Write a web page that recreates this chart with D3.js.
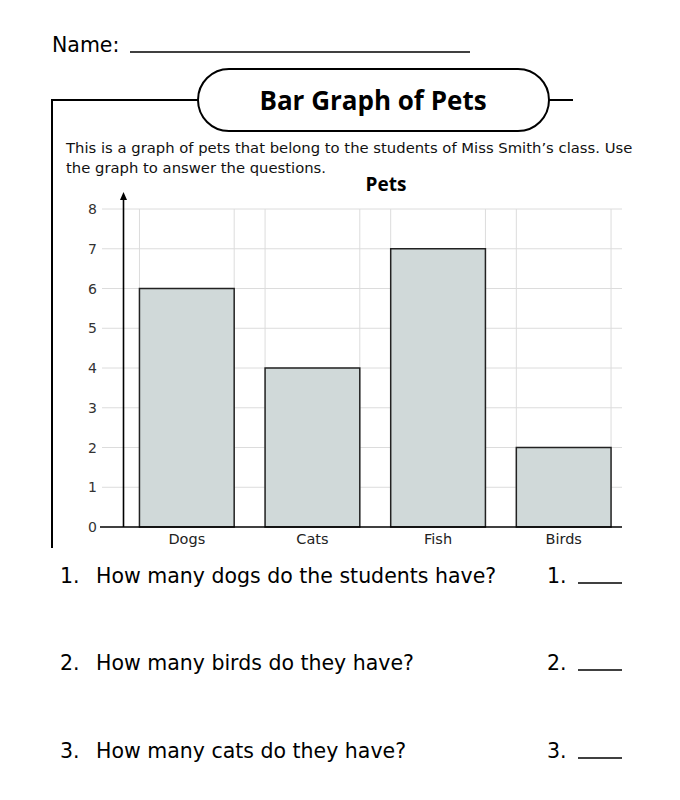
<!DOCTYPE html>
<html lang="en">
<head>
    <meta charset="UTF-8">
    <title>Bar Graph of Pets</title>
    <style>
        body, html {
            margin: 0;
            padding: 0;
            background: #fff;
        }
        svg text {
            font-family: "DejaVu Sans", "Noto Sans", sans-serif;
        }
        svg text.heavy {
            font-family: "Open Sans", "DejaVu Sans", sans-serif;
            font-weight: bold;
        }
    </style>
    <script src="https://d3js.org/d3.v7.min.js"></script>
</head>
<body>
    <div id="chart"></div>
    <script>
        // chart data
        const categories = ["Dogs", "Cats", "Fish", "Birds"];
        const petCounts = [6, 4, 7, 2];
        const yTicks = [0, 1, 2, 3, 4, 5, 6, 7, 8];
        const questions = [
            "How many dogs do the students have?",
            "How many birds do they have?",
            "How many cats do they have?"
        ];

        const W = 680, H = 800;
        const svg = d3.select("#chart").append("svg")
            .attr("width", W)
            .attr("height", H);

        // header
        svg.append("text")
            .attr("x", 52).attr("y", 52)
            .style("font-size", "20.5px")
            .text("Name:");
        svg.append("line")
            .attr("x1", 130).attr("x2", 470)
            .attr("y1", 52).attr("y2", 52)
            .attr("stroke", "#000").attr("stroke-width", 1.3);

        // frame and title pill
        svg.append("path")
            .attr("d", "M52,548 L52,100 L198,100")
            .attr("fill", "none").attr("stroke", "#000").attr("stroke-width", 2);
        svg.append("line")
            .attr("x1", 549).attr("x2", 573).attr("y1", 100).attr("y2", 100)
            .attr("stroke", "#000").attr("stroke-width", 2);
        svg.append("rect")
            .attr("x", 198).attr("y", 69)
            .attr("width", 351).attr("height", 62)
            .attr("rx", 31).attr("ry", 31)
            .attr("fill", "#fff").attr("stroke", "#000").attr("stroke-width", 2);
        svg.append("text")
            .attr("class", "heavy")
            .attr("x", 373).attr("y", 110)
            .attr("text-anchor", "middle")
            .style("font-size", "26px")
            .text("Bar Graph of Pets");

        svg.append("text")
            .attr("x", 66).attr("y", 153)
            .style("font-size", "14.8px").attr("fill", "#111")
            .text("This is a graph of pets that belong to the students of Miss Smith\u2019s class.  Use");
        svg.append("text")
            .attr("x", 66).attr("y", 173)
            .style("font-size", "14.8px").attr("fill", "#111")
            .text("the graph to answer the questions.");

        // chart
        const x = d3.scaleBand()
            .domain(categories)
            .range([123.5, 627])
            .paddingInner(0.246)
            .paddingOuter(0.127);

        const y = d3.scaleLinear()
            .domain([0, 8])
            .range([527, 209]);

        svg.append("text")
            .attr("class", "heavy")
            .attr("x", 386).attr("y", 191)
            .attr("text-anchor", "middle")
            .style("font-size", "19px")
            .text("Pets");

        // grid
        const grid = svg.append("g").attr("stroke", "#dcdcdc").attr("stroke-width", 1);
        grid.selectAll("line.h")
            .data(yTicks.slice(1))
            .enter().append("line")
            .attr("class", "h")
            .attr("x1", 102).attr("x2", 622)
            .attr("y1", d => y(d)).attr("y2", d => y(d));
        const edges = [];
        categories.forEach(c => { edges.push(x(c)); edges.push(x(c) + x.bandwidth()); });
        grid.selectAll("line.v")
            .data(edges)
            .enter().append("line")
            .attr("class", "v")
            .attr("x1", d => d).attr("x2", d => d)
            .attr("y1", y(8)).attr("y2", y(0));

        // bars
        svg.selectAll("rect.bar")
            .data(petCounts)
            .enter().append("rect")
            .attr("class", "bar")
            .attr("x", (d, i) => x(categories[i]))
            .attr("y", d => y(d))
            .attr("width", x.bandwidth())
            .attr("height", d => y(0) - y(d))
            .attr("fill", "#d0d9d9")
            .attr("stroke", "#222")
            .attr("stroke-width", 1.5);

        // y tick labels
        svg.selectAll("text.ytick")
            .data(yTicks)
            .enter().append("text")
            .attr("class", "ytick")
            .attr("x", 97)
            .attr("y", d => y(d) + 5)
            .attr("text-anchor", "end")
            .attr("fill", "#333")
            .style("font-size", "14px")
            .text(d => d);

        // axes
        svg.append("line")
            .attr("x1", 100).attr("x2", 622)
            .attr("y1", y(0)).attr("y2", y(0))
            .attr("stroke", "#000").attr("stroke-width", 1.6);
        svg.append("line")
            .attr("x1", 123.5).attr("x2", 123.5)
            .attr("y1", y(0)).attr("y2", 198)
            .attr("stroke", "#000").attr("stroke-width", 1.6);
        svg.append("path")
            .attr("d", "M123.5,192 L120,200 L127,200 Z")
            .attr("fill", "#000");

        // category labels
        svg.selectAll("text.xlab")
            .data(categories)
            .enter().append("text")
            .attr("class", "xlab")
            .attr("x", d => x(d) + x.bandwidth() / 2)
            .attr("y", 544)
            .attr("text-anchor", "middle")
            .attr("fill", "#222")
            .style("font-size", "14.5px")
            .text(d => d);

        // questions
        const qRows = [583, 670, 758];
        questions.forEach((q, i) => {
            const g = svg.append("g");
            g.append("text")
                .attr("x", 60).attr("y", qRows[i])
                .style("font-size", "20.5px")
                .text((i + 1) + ".");
            g.append("text")
                .attr("x", 96).attr("y", qRows[i])
                .style("font-size", "20.5px")
                .text(q);
            g.append("text")
                .attr("x", 547).attr("y", qRows[i])
                .style("font-size", "20.5px")
                .text((i + 1) + ".");
            g.append("line")
                .attr("x1", 578).attr("x2", 622)
                .attr("y1", qRows[i]).attr("y2", qRows[i])
                .attr("stroke", "#000").attr("stroke-width", 1.3);
        });
    </script>
</body>
</html>
